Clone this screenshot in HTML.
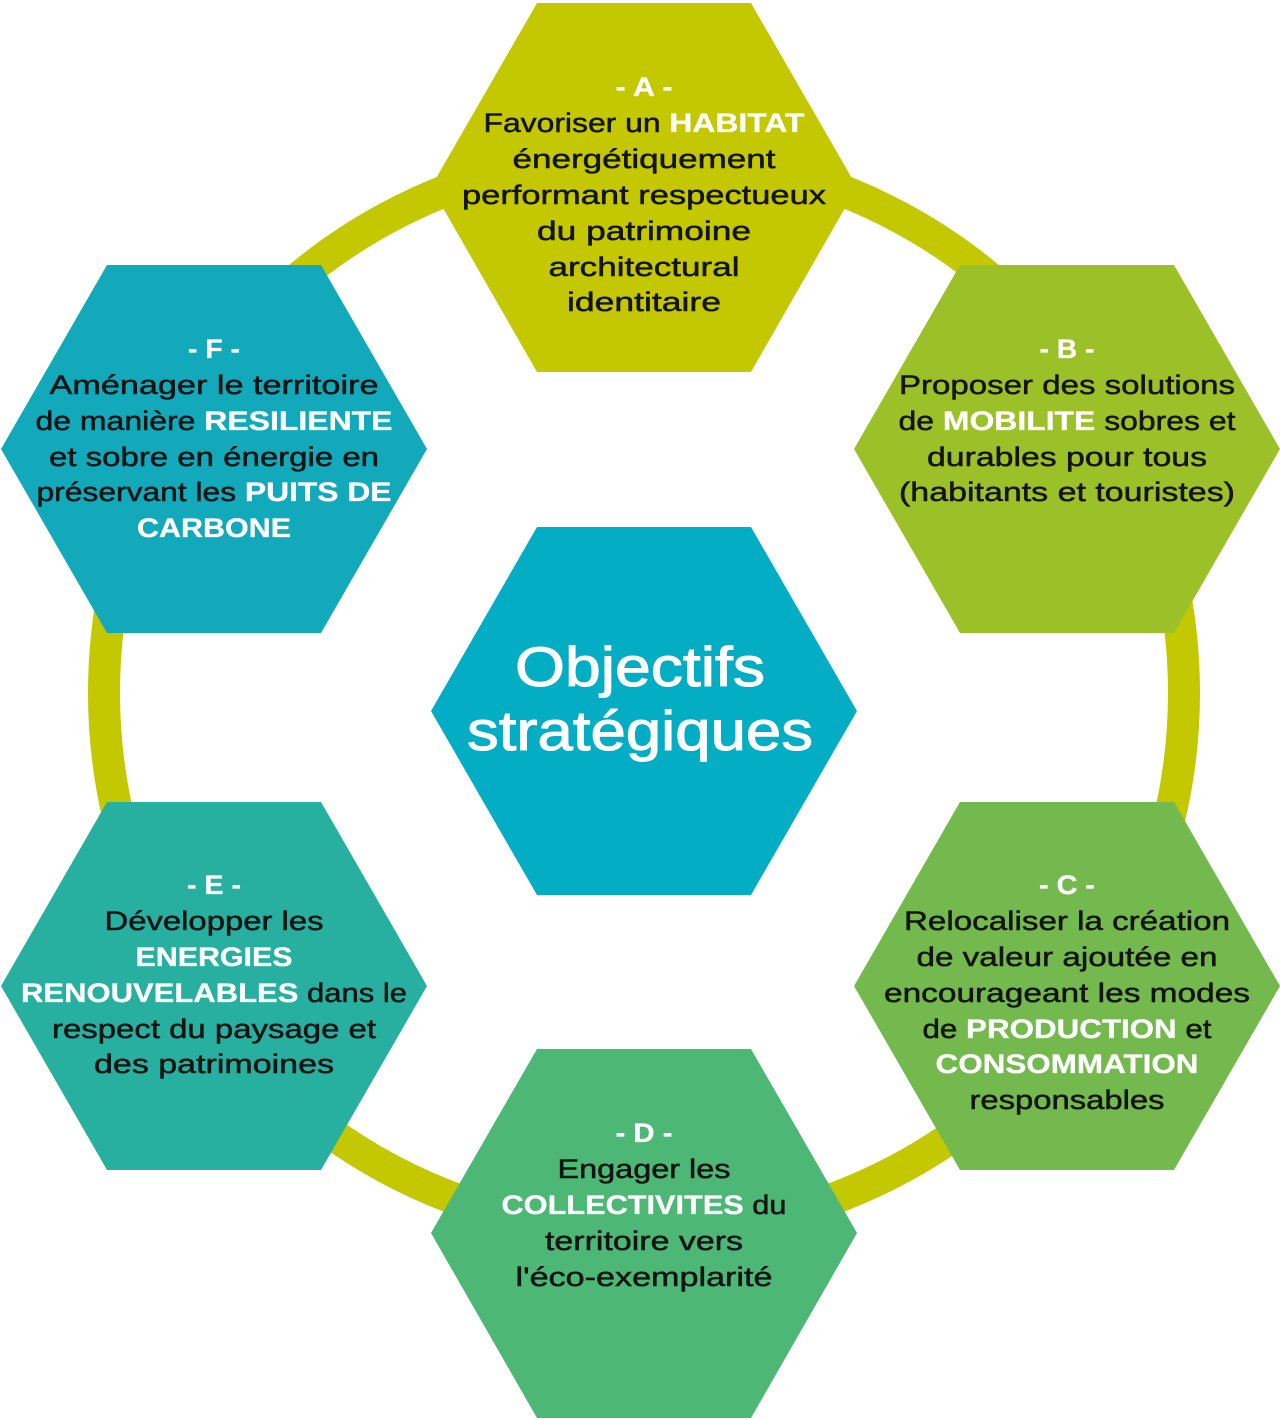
<!DOCTYPE html>
<html><head><meta charset="utf-8"><style>
html,body{margin:0;padding:0;background:#fff;}
svg{display:block;}
text{font-family:"Liberation Sans","DejaVu Sans",sans-serif;font-size:27px;fill:#141414;stroke:#141414;stroke-width:0.5px;text-anchor:middle;}
.w{fill:#fff;stroke:#fff;stroke-width:0.3px;font-weight:bold;}
.t{font-size:56px;fill:#fff;stroke:#fff;stroke-width:1px;}
</style></head><body>
<svg width="1280" height="1419" viewBox="0 0 1280 1419" xmlns="http://www.w3.org/2000/svg">
<circle cx="644" cy="693" r="540" fill="none" stroke="#c3c800" stroke-width="32"/>
<g>
<polygon points="431,187 537,3 751,3 857,187 751,372 537,372" fill="#c3c800"/>
<polygon points="854,449 960,265 1174,265 1280,449 1174,633 960,633" fill="#9cc128"/>
<polygon points="854,986 960,802 1174,802 1280,986 1174,1170 960,1170" fill="#74b94d"/>
<polygon points="431,1233 537,1049 751,1049 857,1233 751,1418 537,1418" fill="#4db776"/>
<polygon points="1,986 107,802 321,802 427,986 321,1170 107,1170" fill="#27b09f"/>
<polygon points="1,449 107,265 321,265 427,449 321,633 107,633" fill="#12a9bb"/>
<polygon points="431,711 537,527 751,527 857,711 751,895 537,895" fill="#03adc4"/>
</g>
<!-- A -->
<text x="644" y="96" class="w" textLength="57" lengthAdjust="spacingAndGlyphs">- A -</text>
<text x="644" y="132" textLength="321" lengthAdjust="spacingAndGlyphs">Favoriser un <tspan class="w">HABITAT</tspan></text>
<text x="644" y="168" textLength="263" lengthAdjust="spacingAndGlyphs">énergétiquement</text>
<text x="644" y="204" textLength="364" lengthAdjust="spacingAndGlyphs">performant respectueux</text>
<text x="644" y="240" textLength="214" lengthAdjust="spacingAndGlyphs">du patrimoine</text>
<text x="644" y="276" textLength="191" lengthAdjust="spacingAndGlyphs">architectural</text>
<text x="644" y="311" textLength="154" lengthAdjust="spacingAndGlyphs">identitaire</text>
<!-- B -->
<text x="1067" y="358" class="w" textLength="55" lengthAdjust="spacingAndGlyphs">- B -</text>
<text x="1067" y="394" textLength="336" lengthAdjust="spacingAndGlyphs">Proposer des solutions</text>
<text x="1067" y="430" textLength="337" lengthAdjust="spacingAndGlyphs">de <tspan class="w">MOBILITE</tspan> sobres et</text>
<text x="1067" y="466" textLength="280" lengthAdjust="spacingAndGlyphs">durables pour tous</text>
<text x="1067" y="501" textLength="336" lengthAdjust="spacingAndGlyphs">(habitants et touristes)</text>
<!-- C -->
<text x="1067" y="894" class="w" textLength="56" lengthAdjust="spacingAndGlyphs">- C -</text>
<text x="1067" y="930" textLength="326" lengthAdjust="spacingAndGlyphs">Relocaliser la création</text>
<text x="1067" y="966" textLength="301" lengthAdjust="spacingAndGlyphs">de valeur ajoutée en</text>
<text x="1067" y="1002" textLength="366" lengthAdjust="spacingAndGlyphs">encourageant les modes</text>
<text x="1067" y="1038" textLength="289" lengthAdjust="spacingAndGlyphs">de <tspan class="w">PRODUCTION</tspan> et</text>
<text x="1067" y="1073" class="w" textLength="263" lengthAdjust="spacingAndGlyphs">CONSOMMATION</text>
<text x="1067" y="1109" textLength="195" lengthAdjust="spacingAndGlyphs">responsables</text>
<!-- D -->
<text x="644" y="1142" class="w" textLength="57" lengthAdjust="spacingAndGlyphs">- D -</text>
<text x="644" y="1178" textLength="173" lengthAdjust="spacingAndGlyphs">Engager les</text>
<text x="644" y="1214" textLength="285" lengthAdjust="spacingAndGlyphs"><tspan class="w">COLLECTIVITES</tspan> du</text>
<text x="644" y="1250" textLength="198" lengthAdjust="spacingAndGlyphs">territoire vers</text>
<text x="644" y="1286" textLength="257" lengthAdjust="spacingAndGlyphs">l'éco-exemplarité</text>
<!-- E -->
<text x="214" y="894" class="w" textLength="54" lengthAdjust="spacingAndGlyphs">- E -</text>
<text x="214" y="930" textLength="219" lengthAdjust="spacingAndGlyphs">Développer les</text>
<text x="214" y="966" class="w" textLength="157" lengthAdjust="spacingAndGlyphs">ENERGIES</text>
<text x="214" y="1002" textLength="386" lengthAdjust="spacingAndGlyphs"><tspan class="w">RENOUVELABLES</tspan> dans le</text>
<text x="214" y="1038" textLength="324" lengthAdjust="spacingAndGlyphs">respect du paysage et</text>
<text x="214" y="1073" textLength="240" lengthAdjust="spacingAndGlyphs">des patrimoines</text>
<!-- F -->
<text x="214" y="358" class="w" textLength="52" lengthAdjust="spacingAndGlyphs">- F -</text>
<text x="214" y="394" textLength="329" lengthAdjust="spacingAndGlyphs">Aménager le territoire</text>
<text x="214" y="430" textLength="357" lengthAdjust="spacingAndGlyphs">de manière <tspan class="w">RESILIENTE</tspan></text>
<text x="214" y="466" textLength="330" lengthAdjust="spacingAndGlyphs">et sobre en énergie en</text>
<text x="214" y="501" textLength="355" lengthAdjust="spacingAndGlyphs">préservant les <tspan class="w">PUITS DE</tspan></text>
<text x="214" y="537" class="w" textLength="154" lengthAdjust="spacingAndGlyphs">CARBONE</text>
<!-- center -->
<text x="640" y="686" class="t" textLength="250" lengthAdjust="spacingAndGlyphs">Objectifs</text>
<text x="640" y="750" class="t" textLength="346" lengthAdjust="spacingAndGlyphs">stratégiques</text>
</svg>
</body></html>
